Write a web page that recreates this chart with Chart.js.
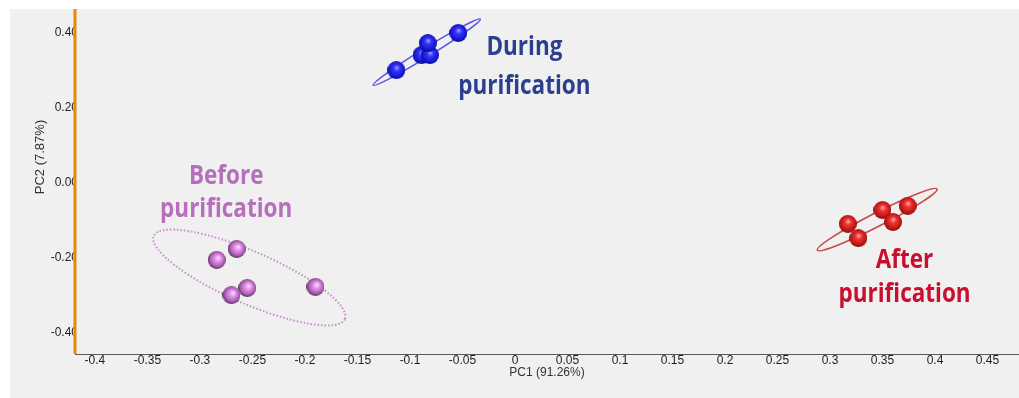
<!DOCTYPE html>
<html>
<head>
<meta charset="utf-8">
<script src="https://cdn.jsdelivr.net/npm/chart.js@4"></script>
<style>
  body { margin: 0; background: #ffffff; }
  canvas { display: block; }
</style>
</head>
<body>
<canvas id="pca-chart" width="1019" height="398"></canvas>
<script>
// Scores PCA (PC1 / PC2)

const beforeX = [-0.265, -0.284, -0.255, -0.270, -0.190];
const beforeY = [-0.176, -0.205, -0.280, -0.299, -0.277];

const duringX = [-0.113, -0.089, -0.081, -0.083, -0.054];
const duringY = [0.301, 0.341, 0.341, 0.373, 0.400];

const afterX = [0.317, 0.327, 0.350, 0.360, 0.374];
const afterY = [-0.109, -0.147, -0.072, -0.104, -0.061];

const xTickValues = [-0.4, -0.35, -0.3, -0.25, -0.2, -0.15, -0.1, -0.05, 0, 0.05, 0.1, 0.15, 0.2, 0.25, 0.3, 0.35, 0.4, 0.45];
const xTickLabels = ['-0.4', '-0.35', '-0.3', '-0.25', '-0.2', '-0.15', '-0.1', '-0.05', '0', '0.05', '0.1', '0.15', '0.2', '0.25', '0.3', '0.35', '0.4', '0.45'];
const yTickValues = [0.4, 0.2, 0, -0.2, -0.4];
const yTickLabels = ['0.40', '0.20', '0.00', '-0.20', '-0.40'];

// ellipses de confiance : extrémités du grand axe (unités PC) + rapport petit/grand axe
const beforeEllipse = [[-0.344, -0.141], [-0.162, -0.363], 0.25];
const duringEllipse = [[-0.135, 0.261], [-0.033, 0.437], 0.07];
const afterEllipse = [[0.288, -0.179], [0.402, -0.016], 0.10];

const groupLabels = [
    { lines: ['Before', 'purification'], x: -0.275, y: [0.016, -0.072], color: '#b56fbb' },
    { lines: ['During', 'purification'], x: 0.009, y: [0.360, 0.256], color: '#2b3f8f' },
    { lines: ['After', 'purification'], x: 0.371, y: [-0.208, -0.299], color: '#c8102e' }
];

/**
 * Crée une sphère ombrée pour le style des points
 */
function makeSphere(r, stops, hx, hy) {
    const c = document.createElement('canvas');
    c.width = r * 2;
    c.height = r * 2;
    const ctx = c.getContext('2d');
    const g = ctx.createRadialGradient(r * hx, r * hy, 0, r, r, r * 1.15);
    stops.forEach(s => g.addColorStop(s[0], s[1]));
    ctx.fillStyle = g;
    ctx.beginPath();
    ctx.arc(r, r, r, 0, Math.PI * 2);
    ctx.fill();
    return c;
}

const pinkBall = makeSphere(9, [[0, '#ffe6ff'], [0.3, '#e596ec'], [0.7, '#a85cb0'], [1, '#221024']], 1.2, 0.75);
const blueBall = makeSphere(9, [[0, '#a8a8ff'], [0.3, '#3535ff'], [0.75, '#1414c8'], [1, '#00005a']], 1.05, 0.7);
const redBall = makeSphere(9, [[0, '#ffb4b4'], [0.3, '#f23434'], [0.75, '#b81414'], [1, '#500000']], 1.05, 0.7);

function toPoints(xs, ys) {
    return xs.map((x, i) => ({ x: x, y: ys[i] }));
}

const panelPlugin = {
    id: 'panel',
    beforeDraw(chart) {
        const ctx = chart.ctx;
        ctx.save();
        ctx.fillStyle = '#ffffff';
        ctx.fillRect(0, 0, chart.width, chart.height);
        ctx.fillStyle = '#f0f0f0';
        ctx.fillRect(10, 9, chart.width - 10, chart.height - 9);
        ctx.restore();
    }
};

const ellipsePlugin = {
    id: 'ellipses',
    beforeDatasetsDraw(chart) {
        const ctx = chart.ctx;
        const xs = chart.scales.x, ys = chart.scales.y;
        const list = [
            [beforeEllipse, '#c58fcb', 2, [1.5, 2]],
            [duringEllipse, '#5656e6', 1.6, []],
            [afterEllipse, '#c94848', 1.6, []]
        ];
        list.forEach(([e, color, width, dash]) => {
            const x1 = xs.getPixelForValue(e[0][0]), y1 = ys.getPixelForValue(e[0][1]);
            const x2 = xs.getPixelForValue(e[1][0]), y2 = ys.getPixelForValue(e[1][1]);
            const a = Math.hypot(x2 - x1, y2 - y1) / 2;
            const angle = Math.atan2(y2 - y1, x2 - x1);
            ctx.save();
            ctx.strokeStyle = color;
            ctx.lineWidth = width;
            ctx.setLineDash(dash);
            ctx.beginPath();
            ctx.ellipse((x1 + x2) / 2, (y1 + y2) / 2, a, a * e[2], angle, 0, Math.PI * 2);
            ctx.stroke();
            ctx.restore();
        });
    }
};

const overlayPlugin = {
    id: 'overlay',
    afterDraw(chart) {
        const ctx = chart.ctx;
        const area = chart.chartArea;
        const xs = chart.scales.x, ys = chart.scales.y;
        ctx.save();
        // axe X
        ctx.strokeStyle = '#5a5a5a';
        ctx.lineWidth = 1;
        ctx.beginPath();
        ctx.moveTo(area.left, area.bottom + 0.5);
        ctx.lineTo(area.right, area.bottom + 0.5);
        ctx.stroke();
        // axe Y (orange)
        ctx.strokeStyle = '#e58a0a';
        ctx.lineWidth = 3;
        ctx.beginPath();
        ctx.moveTo(area.left, area.top);
        ctx.lineTo(area.left, area.bottom);
        ctx.stroke();
        // titre de l'axe Y
        ctx.fillStyle = '#333333';
        ctx.font = '13px "Liberation Sans", Arial, sans-serif';
        ctx.textAlign = 'center';
        ctx.textBaseline = 'middle';
        ctx.translate(40, 157);
        ctx.rotate(-Math.PI / 2);
        ctx.fillText('PC2 (7.87%)', 0, 0);
        ctx.restore();

        // étiquettes des groupes
        groupLabels.forEach(lab => {
            lab.lines.forEach((txt, i) => {
                ctx.save();
                ctx.translate(xs.getPixelForValue(lab.x), ys.getPixelForValue(lab.y[i]));
                ctx.scale(1, 1.15);
                ctx.font = 'bold 22.5px "Open Sans", sans-serif';
                ctx.fillStyle = lab.color;
                ctx.textAlign = 'center';
                ctx.textBaseline = 'middle';
                ctx.fillText(txt, 0, 0);
                ctx.restore();
            });
        });
    }
};

const ctx = document.getElementById('pca-chart').getContext('2d');
const pcaChart = new Chart(ctx, {
    type: 'scatter',
    data: {
        datasets: [
            {
                label: 'Before purification',
                data: toPoints(beforeX, beforeY),
                pointStyle: pinkBall,
                pointRadius: 9
            },
            {
                label: 'During purification',
                data: toPoints(duringX, duringY),
                pointStyle: blueBall,
                pointRadius: 9
            },
            {
                label: 'After purification',
                data: toPoints(afterX, afterY),
                pointStyle: redBall,
                pointRadius: 9
            }
        ]
    },
    options: {
        responsive: false,
        animation: false,
        layout: {
            autoPadding: false,
            padding: { top: 9, left: 0, right: 0, bottom: 0 }
        },
        plugins: {
            legend: { display: false },
            tooltip: { enabled: false }
        },
        scales: {
            x: {
                type: 'linear',
                min: -0.419,
                max: 0.48,
                grid: { display: false, drawTicks: false },
                border: { display: false },
                afterBuildTicks: scale => {
                    scale.ticks = xTickValues.map(v => ({ value: v }));
                },
                afterFit: scale => {
                    scale.height = 44;
                    scale.paddingLeft = 0;
                    scale.paddingRight = 0;
                },
                ticks: {
                    autoSkip: false,
                    maxRotation: 0,
                    padding: -1,
                    color: '#1e1e1e',
                    font: { family: '"Liberation Sans", Arial, sans-serif', size: 12 },
                    callback: (value, index) => xTickLabels[index]
                },
                title: {
                    display: true,
                    text: 'PC1 (91.26%)',
                    color: '#333333',
                    padding: { top: 0, bottom: 18 },
                    font: { family: '"Liberation Sans", Arial, sans-serif', size: 12 }
                }
            },
            y: {
                type: 'linear',
                min: -0.456,
                max: 0.464,
                grid: { display: false, drawTicks: false },
                border: { display: false },
                afterBuildTicks: scale => {
                    scale.ticks = yTickValues.map(v => ({ value: v }));
                },
                afterFit: scale => {
                    scale.width = 75;
                    scale.paddingTop = 0;
                    scale.paddingBottom = 0;
                },
                ticks: {
                    autoSkip: false,
                    padding: -3,
                    color: '#1e1e1e',
                    font: { family: '"Liberation Sans", Arial, sans-serif', size: 12 },
                    callback: (value, index) => yTickLabels[index]
                }
            }
        }
    },
    plugins: [panelPlugin, ellipsePlugin, overlayPlugin]
});
</script>
</body>
</html>
